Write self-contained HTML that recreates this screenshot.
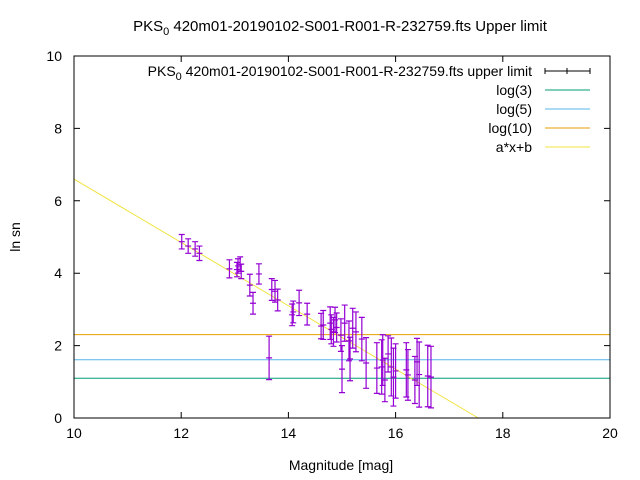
<!DOCTYPE html>
<html><head><meta charset="utf-8"><style>
body{margin:0;background:#fff}
svg{display:block;font-family:"Liberation Sans",sans-serif}
</style></head><body>
<svg id="chart" width="640" height="480">
<rect width="640" height="480" fill="#fff"/>
<text x="340" y="31" font-size="15" text-anchor="middle">PKS<tspan font-size="11" dy="4">0</tspan><tspan dy="-4"> 420m01-20190102-S001-R001-R-232759.fts Upper limit</tspan></text>
<g id="plot"></g>
<text x="341" y="470" font-size="14" text-anchor="middle">Magnitude [mag]</text>
<text x="20" y="237" font-size="14" text-anchor="middle" transform="rotate(-90 20 237)">ln sn</text>
</svg>
<script>
const xTicks=[10,12,14,16,18,20];
const yTicks=[0,2,4,6,8,10];
const mags=[12.01,12.13,12.26,12.34,12.9,13.04,13.06,13.1,13.12,13.28,13.34,13.45,13.64,13.69,13.75,13.8,14.07,14.09,14.2,14.35,14.61,14.65,14.78,14.8,14.84,14.87,14.9,14.98,15.0,15.05,15.13,15.15,15.2,15.26,15.37,15.45,15.65,15.74,15.76,15.8,15.86,15.92,15.96,16.0,16.2,16.23,16.36,16.4,16.44,16.6,16.66];
const vals=[4.87,4.75,4.67,4.55,4.12,4.1,4.2,4.25,4.05,3.67,3.17,3.98,1.66,3.55,3.5,3.26,2.85,2.93,3.18,2.87,2.54,2.57,2.62,2.45,2.38,2.71,2.5,2.29,1.35,2.62,2.13,1.63,2.48,2.38,2.18,1.52,1.38,1.41,1.6,1.05,1.77,1.41,1.13,1.3,1.33,1.19,1.05,1.55,1.2,1.16,1.13];
const errs=[0.2,0.2,0.2,0.2,0.25,0.2,0.2,0.2,0.2,0.3,0.3,0.28,0.6,0.3,0.3,0.3,0.3,0.3,0.35,0.3,0.35,0.4,0.45,0.4,0.4,0.35,0.4,0.45,0.65,0.5,0.55,0.6,0.55,0.55,0.6,0.7,0.7,0.75,0.7,0.6,0.5,0.8,0.8,0.75,0.75,0.7,0.65,0.65,0.9,0.85,0.85];
const fitA=-0.875, fitB=15.35;
const hLines=[{v:Math.log(3),c:"#009e73",n:"log(3)"},{v:Math.log(5),c:"#56b4e9",n:"log(5)"},{v:Math.log(10),c:"#e69f00",n:"log(10)"}];
const X0=74,X1=610,Y0=418,Y1=56;
const sx=m=>X0+(m-10)/10*(X1-X0);
const sy=v=>Y0-v/10*(Y0-Y1);
const NS="http://www.w3.org/2000/svg";
const g=document.getElementById('plot');
function el(t,a){const e=document.createElementNS(NS,t);for(const k in a)e.setAttribute(k,a[k]);g.appendChild(e);return e;}
// ticks
xTicks.forEach(t=>{
 const x=sx(t);
 const l=el('path',{d:`M${x},${Y0}v-6M${x},${Y1}v6`,stroke:'#000'});
 
 
 const tx=el('text',{x:x,y:Y0+20,'font-size':14,'text-anchor':'middle'});tx.textContent=t;
 
 
});
yTicks.forEach(t=>{
 const y=sy(t);
 const l=el('path',{d:`M${X0},${y}h6M${X1},${y}h-6`,stroke:'#000'});
 
 
 const tx=el('text',{x:X0-12,y:y+5,'font-size':14,'text-anchor':'end'});tx.textContent=t;
 
 
});
// horizontal lines
hLines.forEach(h=>{
 const l=el('line',{x1:X0,x2:X1,y1:sy(h.v),y2:sy(h.v),stroke:h.c,'stroke-width':1});
 
 
});
// fit line, clipped to plot
const xEnd=-fitB/fitA;
const fl=el('line',{x1:sx(10),y1:sy(fitA*10+fitB),x2:sx(xEnd),y2:sy(0),stroke:'#f0e442','stroke-width':1});


// error bars
mags.forEach((m,i)=>{
 const x=sx(m),y=sy(vals[i]),t=sy(vals[i]+errs[i]),b=sy(vals[i]-errs[i]);
 const p=el('path',{d:`M${x},${t}V${b}M${x-3},${t}h6M${x-3},${b}h6M${x-3},${y}h6`,stroke:'#9400d3','stroke-width':1.2,fill:'none'});
 
 
});
// border
const bd=el('rect',{x:X0,y:Y1,width:X1-X0,height:Y0-Y1,fill:'none',stroke:'#000'});


// legend
const leg=[{n:'PKS',c:'#000',eb:true},{n:'log(3)',c:'#009e73'},{n:'log(5)',c:'#56b4e9'},{n:'log(10)',c:'#e69f00'},{n:'a*x+b',c:'#f0e442'}];
leg.forEach((L,i)=>{
 const y=71+i*19;
 const t=el('text',{x:532,y:y+5,'font-size':14,'text-anchor':'end'});
 if(i===0){t.innerHTML='PKS<tspan font-size="11" dy="4">0</tspan><tspan dy="-4"> 420m01-20190102-S001-R001-R-232759.fts upper limit</tspan>';}
 else t.textContent=L.n;
 
 
 const s=el('path',{d:L.eb?`M545,${y}h45M545,${y-3}v6M590,${y-3}v6M567,${y-3}v6`:`M545,${y}h45`,stroke:L.c,'stroke-width':1});
 
 
});
</script>
</body></html>
